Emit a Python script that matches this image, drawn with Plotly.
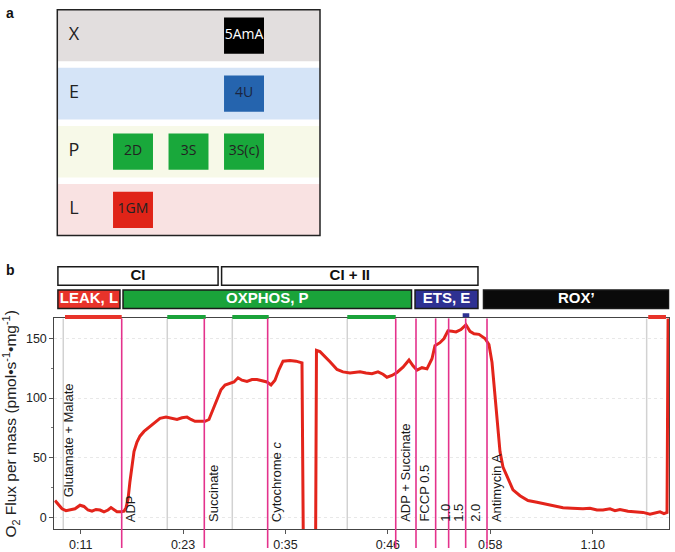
import plotly.graph_objects as go

W, H = 675, 552


def px(x):
    return x / W


def py(y):
    return 1 - y / H


# ---------------- Panel a data ----------------
a_rows = ["L", "P", "E", "X"]
a_row_colors = ["#f9e2e2", "#f7f9e8", "#d5e4f7", "#e2dede"]
a_steps = ["1GM", "2D", "3S", "3S(c)", "4U", "5AmA"]
a_step_row = ["L", "P", "P", "P", "E", "X"]
a_step_col = [1, 1, 2, 3, 3, 3]
a_step_colors = ["#e02418", "#19a83b", "#19a83b", "#19a83b", "#2564ae", "#000000"]
a_step_text_colors = ["#222222", "#222222", "#222222", "#222222", "#1b2540", "#ffffff"]

# ---------------- Panel b data ----------------
time_min = [8.74, 9.08, 9.54, 9.99, 10.45, 11.02, 11.59, 12.04, 12.50, 12.95, 13.41, 13.87,
            14.32, 14.78, 15.12, 15.46, 15.80, 16.26, 16.60, 16.83, 17.06, 17.28, 17.51,
            17.74, 18.08, 18.42, 18.88, 19.56, 20.25, 20.70, 21.39, 22.07, 22.64, 23.21,
            23.78, 24.23, 24.69, 25.26, 25.83, 26.28, 26.74, 27.20, 27.65, 28.11, 28.68,
            29.13, 29.59, 30.04, 30.61, 31.18, 31.75, 32.32, 32.89, 33.35, 33.80, 34.26,
            34.72, 35.51, 36.20, 36.88, 37.05, 38.42, 38.53, 38.93, 39.50, 40.07, 40.87,
            41.55, 42.35, 42.92, 43.49, 44.17, 44.85, 45.54, 46.11, 46.56, 47.13, 47.70,
            48.39, 49.07, 49.53, 49.98, 50.55, 51.12, 51.69, 52.03, 52.60, 53.06, 53.51,
            53.97, 54.43, 54.99, 55.56, 56.02, 56.48, 57.05, 57.73, 58.18, 58.53, 58.75,
            59.10, 59.44, 59.78, 60.24, 60.92, 61.72, 62.63, 63.65, 64.56, 65.13, 65.93,
            66.62, 67.64, 68.89, 69.69, 70.49, 71.17, 71.97, 72.54, 73.11, 74.02, 75.05,
            75.73, 76.53, 77.21, 77.67, 78.12, 78.47, 78.69]
flux = [14, 11, 7, 5.5, 6, 7, 10, 9, 6, 5, 6.5, 6,
        4.5, 6, 8, 6, 4.5, 4.5, 5, 8, 15, 30, 45,
        55, 63, 68, 72, 76, 80, 83, 84, 83, 82, 83.5,
        84, 82, 80.5, 80.5, 80.5, 82, 90, 98, 107, 111, 112.5,
        113.5, 117, 115, 114, 115.5, 115.5, 114.5, 113.5, 111, 115, 124,
        131, 131.5, 131, 129.5, -40, -40, 140, 139, 135, 130.5, 124,
        122, 121, 121.5, 122, 121, 120.5, 122, 120, 117.5, 119, 121.5,
        126, 132, 127, 123.5, 125.5, 124.5, 133, 144, 146.5, 150, 156.5,
        156, 155.5, 157.5, 161.5, 156, 154, 153.5, 150, 145, 130, 112,
        83, 55, 42, 34, 23, 18, 14, 12.5, 11, 10, 8.5,
        8, 7.5, 7, 7.5, 6, 6, 7, 5.5, 6.5, 5, 4.5,
        4, 2.5, 4, 4.5, 3, 4, 300]

tick_vals = [11.667, 23.333, 35.0, 46.667, 58.333, 70.0]
tick_text = ["0:11", "0:23", "0:35", "0:46", "0:58", "1:10"]
y_tick_vals = [0, 50, 100, 150]

event_times = [9.19, 16.34, 25.75, 32.97, 47.56, 49.87, 52.11, 53.59, 55.53, 57.96]
event_labels = ["Glutamate + Malate", "ADP", "Succinate", "Cytochrome <i>c</i>",
                "ADP + Succinate", "FCCP 0.5", "1.0", "1.5", "2.0", "Antimycin A"]

interval_starts = [9.68, 21.53, 28.94, 42.04, 76.15]
mark_start = [9.88, 21.53, 28.94, 42.04, 55.19, 76.33]
mark_end = [16.34, 25.91, 33.09, 47.56, 55.94, 78.35]
mark_colors = ["#e8332a", "#1aa33a", "#1aa33a", "#1aa33a", "#2e3192", "#e8332a"]

complex_labels = ["CI", "CI + II"]
complex_start = [9.07, 27.72]
complex_end = [27.32, 56.93]

state_labels = ["LEAK, L", "OXPHOS, P", "ETS, E", "ROX’"]
state_start = [9.07, 16.49, 49.76, 57.56]
state_end = [16.14, 49.36, 56.93, 78.70]
state_colors = ["#e8332a", "#1aa33a", "#2e3192", "#0a0a0a"]

# ---------------- Figure ----------------
fig = go.Figure()
FONT = "Liberation Sans, Arial, sans-serif"
NARROW = "Liberation Sans Narrow, Arial Narrow, Liberation Sans, sans-serif"
A_FONT = "Open Sans, Noto Sans, sans-serif"

# panel a: step boxes
row_idx = {r: i for i, r in enumerate(a_rows)}
box_w, box_h = 0.72, 0.624
fig.add_trace(go.Bar(
    orientation="h",
    y=[row_idx[r] for r in a_step_row],
    base=[c - box_w / 2 for c in a_step_col],
    x=[box_w] * len(a_steps),
    width=box_h,
    marker=dict(color=a_step_colors, line=dict(width=0)),
    xaxis="x2", yaxis="y2", hoverinfo="skip",
))
fig.add_trace(go.Scatter(
    x=a_step_col, y=[row_idx[r] for r in a_step_row], text=a_steps,
    mode="text", textposition="middle center",
    textfont=dict(family=A_FONT, size=14, color=a_step_text_colors),
    xaxis="x2", yaxis="y2", hoverinfo="skip",
))
fig.add_trace(go.Scatter(
    x=[-0.063] * len(a_rows), y=list(range(len(a_rows))), text=a_rows,
    mode="text", textposition="middle center",
    textfont=dict(family=A_FONT, size=18, color="#222222"),
    xaxis="x2", yaxis="y2", hoverinfo="skip",
))

# panel b: state bars (row 0) and complex bars (row 1)
bar_w = 0.79
fig.add_trace(go.Bar(
    orientation="h", y=[1] * len(complex_labels), base=complex_start,
    x=[e - s for s, e in zip(complex_start, complex_end)], width=bar_w,
    marker=dict(color="#ffffff", line=dict(color="#1a1a1a", width=1.5)),
    xaxis="x", yaxis="y3", hoverinfo="skip",
))
fig.add_trace(go.Bar(
    orientation="h", y=[0] * len(state_labels), base=state_start,
    x=[e - s for s, e in zip(state_start, state_end)], width=bar_w,
    marker=dict(color=state_colors, line=dict(color="#1a1a1a", width=1.5)),
    xaxis="x", yaxis="y3", hoverinfo="skip",
))
fig.add_trace(go.Scatter(
    x=[(s + e) / 2 for s, e in zip(complex_start, complex_end)], y=[1] * len(complex_labels),
    text=[f"<b>{t}</b>" for t in complex_labels], mode="text", textposition="middle center",
    textfont=dict(family=NARROW, size=15, color="#111111"),
    xaxis="x", yaxis="y3", hoverinfo="skip",
))
fig.add_trace(go.Scatter(
    x=[(s + e) / 2 for s, e in zip(state_start, state_end)], y=[0] * len(state_labels),
    text=[f"<b>{t}</b>" for t in state_labels], mode="text", textposition="middle center",
    textfont=dict(family=NARROW, size=15, color="#ffffff"),
    xaxis="x", yaxis="y3", hoverinfo="skip",
))

# interval marks above plot
for s, e, c in zip(mark_start, mark_end, mark_colors):
    yv = 0.68 if c == "#2e3192" else 0.5
    fig.add_trace(go.Scatter(
        x=[s, e], y=[yv, yv], mode="lines", line=dict(color=c, width=4),
        xaxis="x", yaxis="y4", hoverinfo="skip",
    ))

# main trace
fig.add_trace(go.Scatter(
    x=time_min, y=flux, mode="lines",
    line=dict(color="#e3241b", width=3),
    xaxis="x", yaxis="y", hoverinfo="skip",
))

shapes = []
# panel a background bands
for i, c in enumerate(a_row_colors):
    shapes.append(dict(type="rect", xref="x2 domain", yref="y2", x0=0, x1=1,
                       y0=i - 0.444, y1=i + 0.444, fillcolor=c,
                       line=dict(width=0), layer="below"))
shapes.append(dict(type="rect", xref="x2 domain", yref="y2 domain", x0=0, x1=1, y0=0, y1=1,
                   line=dict(color="#222222", width=1.5), layer="above"))
# gray interval start lines
for t in interval_starts:
    shapes.append(dict(type="line", xref="x", yref="y domain", x0=t, x1=t, y0=0, y1=1,
                       line=dict(color="#d2d2d2", width=1.5), layer="below"))
# pink event lines
for t in event_times[1:]:
    shapes.append(dict(type="line", xref="x", yref="paper", x0=t, x1=t, y0=0, y1=py(320.7),
                       line=dict(color="#e4328c", width=1.6), layer="above"))

annotations = []
for i, (t, lab) in enumerate(zip(event_times, event_labels)):
    annotations.append(dict(
        x=t, y=15 if i == 0 else -5.8, xref="x", yref="y", text=lab, showarrow=False,
        textangle=-90, xanchor="center", yanchor="bottom", xshift=9,
        font=dict(family=FONT, size=13, color="#1a1a1a"),
    ))
annotations.append(dict(x=px(4), y=py(3), xref="paper", yref="paper", text="<b>a</b>",
                        showarrow=False, xanchor="left", yanchor="top",
                        font=dict(family=FONT, size=14, color="#111111")))
annotations.append(dict(x=px(4), y=py(262), xref="paper", yref="paper", text="<b>b</b>",
                        showarrow=False, xanchor="left", yanchor="top",
                        font=dict(family=FONT, size=14, color="#111111")))

fig.update_layout(
    width=W, height=H, margin=dict(l=0, r=0, t=0, b=0),
    paper_bgcolor="#ffffff", plot_bgcolor="rgba(0,0,0,0)",
    showlegend=False, barmode="overlay",
    font=dict(family=FONT, size=12, color="#222222"),
    shapes=shapes, annotations=annotations,
    xaxis=dict(domain=[px(54.3), px(669.3)], range=[8.659, 78.73], anchor="y",
               tickvals=tick_vals, ticktext=tick_text, ticks="outside", ticklen=4,
               tickcolor="#555555", showline=True, linecolor="#444444", linewidth=1,
               mirror=True, showgrid=False, zeroline=False,
               tickfont=dict(size=12.5, color="#222222")),
    yaxis=dict(domain=[py(533.3), py(320.7)], range=[-10.3, 166.9], anchor="x",
               tickvals=y_tick_vals, ticks="outside", ticklen=4, tickcolor="#555555",
               showline=True, linecolor="#444444", linewidth=1, mirror=True,
               showgrid=True, gridcolor="#e8e8e8", griddash="dot", zeroline=False,
               minor=dict(dtick=25, ticks="outside", ticklen=2, tickcolor="#777777", showgrid=False),
               tickfont=dict(size=12.5, color="#222222"),
               title=dict(text="O<sub>2</sub> Flux per mass (pmol•s<sup>-1</sup>•mg<sup>-1</sup>)",
                          font=dict(size=15.5, color="#222222"), standoff=5)),
    yaxis3=dict(domain=[py(313.25), py(266.25)], range=[-0.5, 1.5], anchor="x",
                visible=False, fixedrange=True),
    yaxis4=dict(domain=[py(324.3), py(314.3)], range=[0, 1], anchor="x",
                visible=False, fixedrange=True),
    xaxis2=dict(domain=[px(57.3), px(320)], range=[-0.364, 4.369], anchor="y2",
                visible=False, fixedrange=True),
    yaxis2=dict(domain=[py(237.3), py(9.8)], range=[-0.444, 3.444], anchor="x2",
                visible=False, fixedrange=True),
)

fig.write_html(
    "out.html",
    config={"displayModeBar": False},
    post_script="document.body.style.margin='0';document.body.style.padding='0';"
                "document.documentElement.style.overflow='hidden';",
)
